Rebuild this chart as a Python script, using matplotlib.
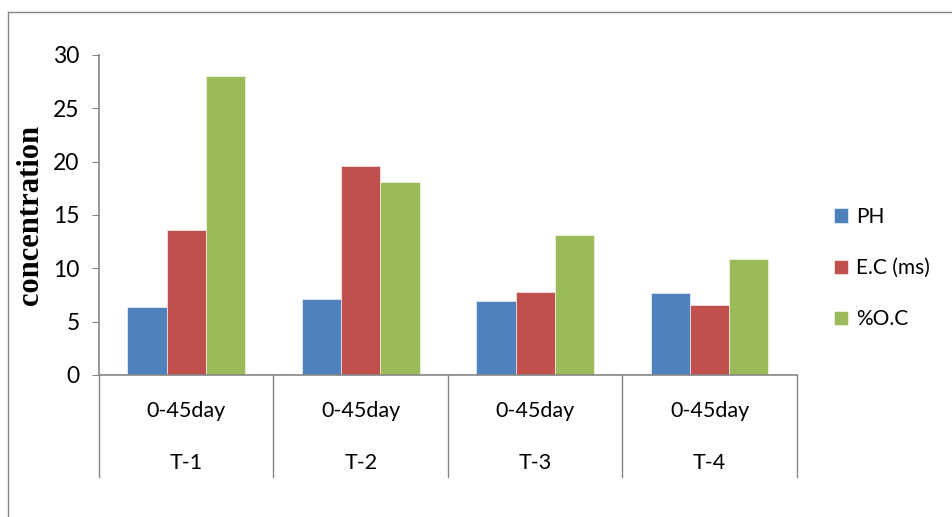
import numpy as np
import matplotlib.pyplot as plt
from matplotlib.lines import Line2D
from matplotlib.transforms import blended_transform_factory

# data
treatments = ["T-1", "T-2", "T-3", "T-4"]
period = ["0-45day", "0-45day", "0-45day", "0-45day"]
ph = [6.4, 7.1, 6.9, 7.7]
ec = [13.6, 19.6, 7.8, 6.6]
oc = [28.0, 18.1, 13.1, 10.9]
series_names = ["PH", "E.C (ms)", "%O.C"]
colors = ["#4f81bd", "#c0504d", "#9bbb59"]

plt.rcParams['font.family'] = ['Lato', 'DejaVu Sans']
grey = "#868686"

fig = plt.figure(figsize=(9.52, 5.17), dpi=100)
ax = fig.add_axes([0.104, 0.2747, 0.733, 0.619])

x = np.arange(len(treatments))
w = 0.225
for i, (vals, name, col) in enumerate(zip([ph, ec, oc], series_names, colors)):
    ax.bar(x + (i - 1) * w, vals, w, color=col, label=name,
           edgecolor="white", linewidth=0.4)

ax.set_xlim(-0.5, len(treatments) - 0.5)
ax.set_ylim(0, 30)
ax.set_yticks(range(0, 31, 5))
ax.tick_params(axis='y', direction='out', length=5, color=grey,
               labelsize=16.5, pad=9)
ax.set_xticks([])

for side in ["top", "right"]:
    ax.spines[side].set_visible(False)
for side in ["left", "bottom"]:
    ax.spines[side].set_color(grey)
    ax.spines[side].set_linewidth(1.2)

# category boxes below the axis
trans = blended_transform_factory(ax.transData, ax.transAxes)
for b in np.arange(-0.5, len(treatments), 1.0):
    ax.plot([b, b], [0, -0.319], transform=trans, color=grey,
            linewidth=1.0, clip_on=False)
for xi, p, t in zip(x, period, treatments):
    ax.text(xi, -0.1125, p, transform=trans, ha='center', va='center',
            fontsize=15.5)
    ax.text(xi, -0.275, t, transform=trans, ha='center', va='center',
            fontsize=15.5)

ax.set_ylabel("concentration", family="Liberation Serif", fontweight="bold",
              fontsize=22, labelpad=2)
ax.yaxis.set_label_coords(-0.078, 0.5)

ax.legend(loc='center left', bbox_to_anchor=(1.053, 0.334), frameon=False,
          fontsize=15, handlelength=0.7, handleheight=0.7,
          handletextpad=0.35, labelspacing=1.5, borderpad=0,
          borderaxespad=0)

# outer frame of the chart area
fig.add_artist(Line2D([8 / 952, 8 / 952], [0, 1 - 12 / 517],
                      color=grey, linewidth=1.0))
fig.add_artist(Line2D([8 / 952, 1], [1 - 12 / 517, 1 - 12 / 517],
                      color=grey, linewidth=1.0))

fig.savefig("out.png", dpi=100)
